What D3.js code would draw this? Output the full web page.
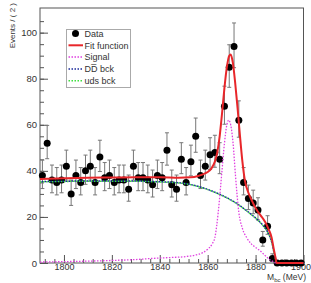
<!DOCTYPE html>
<html>
<head>
<meta charset="utf-8">
<script src="https://cdn.jsdelivr.net/npm/d3@7"></script>
<style>
body { margin: 0; background: #fff; }
text { font-family: "Liberation Sans", Arial, sans-serif; fill: #333; }
</style>
</head>
<body>
<svg id="plot"></svg>
<script>
// bin centres (2 MeV bins) and counts
var binCenters = [1791, 1793, 1795, 1797, 1799, 1801, 1803, 1805, 1807, 1809,
	1811, 1813, 1815, 1817, 1819, 1821, 1823, 1825, 1827, 1829,
	1831, 1833, 1835, 1837, 1839, 1841, 1843, 1845, 1847, 1849,
	1851, 1853, 1855, 1857, 1859, 1861, 1863, 1865, 1867, 1869,
	1871, 1873, 1875, 1877, 1879, 1881, 1883, 1885, 1887, 1889,
	1891, 1893, 1895, 1897, 1899];
var counts = [38, 52, 36, 35, 36, 42, 30, 38, 35, 40,
	42, 35, 46, 37, 38, 35, 36, 36, 32, 42,
	37, 37, 36, 34, 38, 37, 49, 34, 32, 45,
	35, 44, 55, 38, 42, 47, 48, 45, 68, 85,
	94, 62, 35, 28, 26, 23, 10, 16, 2, 0,
	0, 0, 0, 0, 0];

// curves, [mass, value]
var fitCurve = [[1790, 36.5], [1800, 36.8], [1810, 37], [1820, 37.1], [1830, 37.2], [1840, 37.2],
	[1848, 37], [1853, 37.2], [1856, 37.8], [1858, 38.5], [1860, 39.5], [1861.5, 41], [1863, 44],
	[1864, 48], [1865, 55], [1866, 65], [1867, 76], [1868, 85], [1869, 90], [1869.6, 90.5],
	[1870.5, 87], [1871.5, 78], [1872.5, 67], [1873.5, 55], [1874.5, 44], [1875.5, 36],
	[1877, 30.5], [1878.5, 27], [1880.5, 23], [1882, 20.8], [1884, 17.8], [1885.5, 14.5],
	[1886.7, 11], [1887.6, 6], [1888.3, 2.5], [1888.8, 0], [1900, 0]];
var signalCurve = [[1790, 0.4], [1800, 0.6], [1810, 0.8], [1820, 1.1], [1830, 1.5], [1837, 2],
	[1845, 2.4], [1851, 2.8], [1855, 3.5], [1858, 4.5], [1860, 6], [1862, 8.5], [1863, 11],
	[1864.4, 22], [1865.8, 38], [1867, 52], [1868, 60], [1868.8, 62], [1869.6, 60], [1870.6, 52],
	[1871.6, 38], [1873, 22], [1874.5, 15], [1876.3, 11], [1878, 8.5], [1880, 6.8], [1882, 5.2],
	[1884, 3.2], [1885.5, 1.8], [1887, 0.8], [1888.8, 0], [1900, 0]];
var ddBckCurve = [[1790, 35.3], [1800, 35.5], [1810, 35.6], [1820, 35.6], [1830, 35.6], [1836, 35.4],
	[1842, 35.2], [1850, 34.6], [1857, 33], [1864, 30.3], [1871, 26.6], [1877.6, 21.6], [1881, 18.6],
	[1883.2, 16.2], [1885, 13.5], [1886, 11.4], [1887, 8], [1887.6, 5], [1888.2, 2.5], [1888.8, 0], [1900, 0]];
var udsBckCurve = [[1790, 35.2], [1800, 35.4], [1810, 35.5], [1820, 35.5], [1830, 35.5], [1836, 35.3],
	[1842, 35.1], [1850, 34.5], [1857, 32.9], [1864, 30.2], [1871, 26.5], [1877.6, 21.5], [1881, 18.5],
	[1883.2, 16.1], [1885, 13.4], [1886, 11.3], [1887, 7.9], [1887.6, 4.9], [1888.2, 2.4], [1888.8, 0], [1900, 0]];

var xTicks = [1800, 1820, 1840, 1860, 1880, 1900];
var yTicks = [0, 20, 40, 60, 80, 100];
var legendNames = ["Data", "Fit function", "Signal", "DD\u0305 bck", "uds bck"];

var w = 311;
var h = 283;
var margin = {
	left: 40,
	right: 7.5,
	top: 8,
	bottom: 20
}

var svg = d3.select("#plot")
	.attr("width", w)
	.attr("height", h);

var xScale = d3.scaleLinear()
	.domain([1790, 1900])
	.range([margin.left, w - margin.right]);
var yScale = d3.scaleLinear()
	.domain([0, 110.7])
	.range([h - margin.bottom, margin.top]);

// frame
svg.append("rect")
	.attr("x", margin.left)
	.attr("y", margin.top)
	.attr("width", w - margin.right - margin.left)
	.attr("height", h - margin.bottom - margin.top)
	.attr("fill", "none")
	.attr("stroke", "#555")
	.attr("stroke-width", 1);

// axes, ticks pointing inwards
var xAxis = d3.axisBottom(xScale).tickValues(xTicks).tickSize(-8).tickPadding(1).tickFormat(d3.format("d"));
var xMinor = d3.axisBottom(xScale).tickValues(d3.range(1792, 1900, 4)).tickSize(-4).tickFormat("");
var yAxis = d3.axisLeft(yScale).tickValues(yTicks).tickSize(-8).tickPadding(3);
var yMinor = d3.axisLeft(yScale).tickValues(d3.range(5, 110, 5)).tickSize(-4).tickFormat("");

svg.append("g")
	.attr("transform", "translate(0," + (h - margin.bottom) + ")")
	.call(xMinor);
svg.append("g")
	.classed("xAxis", true)
	.attr("transform", "translate(0," + (h - margin.bottom) + ")")
	.call(xAxis);
svg.append("g")
	.attr("transform", "translate(" + margin.left + ",0)")
	.call(yMinor);
svg.append("g")
	.classed("yAxis", true)
	.attr("transform", "translate(" + margin.left + ",0)")
	.call(yAxis);

svg.selectAll(".domain").remove();
svg.selectAll(".tick line").attr("stroke", "#555");
svg.selectAll(".tick text")
	.attr("fill", "#333")
	.style("font-family", "Liberation Sans, Arial, sans-serif");
svg.selectAll(".xAxis .tick text").style("font-size", "9px");
svg.selectAll(".yAxis .tick text").style("font-size", "9.5px");
// keep the last x label inside the picture
svg.selectAll(".xAxis .tick text")
	.filter(function (d) { return d === 1900; })
	.attr("text-anchor", "end")
	.attr("dx", 7);

// axis titles
svg.append("text")
	.attr("transform", "translate(15," + 3 + ") rotate(-90)")
	.attr("text-anchor", "end")
	.style("font-size", "8px")
	.text("Events / ( 2 )");
var xt = svg.append("text")
	.attr("x", 306)
	.attr("y", 280)
	.attr("text-anchor", "end")
	.style("font-size", "8.5px");
xt.append("tspan").text("M");
xt.append("tspan").attr("dy", 2).style("font-size", "6px").text("bc");
xt.append("tspan").attr("dy", -2).text(" (MeV)");

// data with error bars
var data = binCenters.map(function (m, i) {
	return {m: m, n: counts[i]};
});
var withErr = data.filter(function (d) {
	return d.n > 0;
});
function errHi(d) {
	return d.n + Math.sqrt(d.n + 0.25) + 0.5;
}
function errLo(d) {
	return d.n - Math.sqrt(d.n + 0.25) + 0.5;
}
var bars = svg.append("g")
	.attr("stroke", "#777")
	.attr("stroke-width", 1);
bars.selectAll("line.v")
	.data(withErr)
	.enter()
	.append("line")
	.attr("x1", function (d) { return xScale(d.m); })
	.attr("x2", function (d) { return xScale(d.m); })
	.attr("y1", function (d) { return yScale(errHi(d)); })
	.attr("y2", function (d) { return yScale(errLo(d)); });
bars.selectAll("line.t")
	.data(withErr)
	.enter()
	.append("line")
	.attr("x1", function (d) { return xScale(d.m) - 2; })
	.attr("x2", function (d) { return xScale(d.m) + 2; })
	.attr("y1", function (d) { return yScale(errHi(d)); })
	.attr("y2", function (d) { return yScale(errHi(d)); });
bars.selectAll("line.b")
	.data(withErr)
	.enter()
	.append("line")
	.attr("x1", function (d) { return xScale(d.m) - 2; })
	.attr("x2", function (d) { return xScale(d.m) + 2; })
	.attr("y1", function (d) { return yScale(errLo(d)); })
	.attr("y2", function (d) { return yScale(errLo(d)); });

svg.selectAll("circle.pt")
	.data(data)
	.enter()
	.append("circle")
	.attr("cx", function (d) { return xScale(d.m); })
	.attr("cy", function (d) { return yScale(d.n); })
	.attr("r", 3.5)
	.attr("fill", "black");

// curves
var line = d3.line()
	.x(function (d) { return xScale(d[0]); })
	.y(function (d) { return yScale(d[1]); })
	.curve(d3.curveMonotoneX);

svg.append("path")
	.datum(udsBckCurve)
	.attr("d", line)
	.attr("fill", "none")
	.attr("stroke", "#3ee03e")
	.attr("stroke-width", 1.5)
	.attr("stroke-dasharray", "1.5,1.5");
svg.append("path")
	.datum(ddBckCurve)
	.attr("d", line)
	.attr("fill", "none")
	.attr("stroke", "#1a2a9a")
	.attr("stroke-width", 1.5)
	.attr("stroke-dasharray", "1.5,1.5")
	.attr("stroke-dashoffset", 1.5);
svg.append("path")
	.datum(signalCurve)
	.attr("d", line)
	.attr("fill", "none")
	.attr("stroke", "#e040e0")
	.attr("stroke-width", 1.3)
	.attr("stroke-dasharray", "1.5,1.5");
svg.append("path")
	.datum(fitCurve)
	.attr("d", line)
	.attr("fill", "none")
	.attr("stroke", "#e8262a")
	.attr("stroke-width", 2);

// legend
var leg = svg.append("g");
leg.append("rect")
	.attr("x", 66.5)
	.attr("y", 29.5)
	.attr("width", 64)
	.attr("height", 58)
	.attr("fill", "white")
	.attr("stroke", "#aaa")
	.attr("stroke-width", 1);
var legendStyles = [
	{color: "black", dash: null},
	{color: "#e8262a", dash: null},
	{color: "#e040e0", dash: "1.5,1.5"},
	{color: "#1a2a9a", dash: "1.5,1.5"},
	{color: "#3ee03e", dash: "1.5,1.5"}
];
legendNames.forEach(function (name, i) {
	var y = 33.5 + i * 11.8;
	if (i === 0) {
		leg.append("circle")
			.attr("cx", 75.5)
			.attr("cy", y)
			.attr("r", 3.5)
			.attr("fill", "black");
	} else {
		leg.append("line")
			.attr("x1", 68.5)
			.attr("x2", 83)
			.attr("y1", y)
			.attr("y2", y)
			.attr("stroke", legendStyles[i].color)
			.attr("stroke-width", i === 1 ? 2 : 1.5)
			.attr("stroke-dasharray", legendStyles[i].dash);
	}
	leg.append("text")
		.attr("x", 84.5)
		.attr("y", y + 3.2)
		.style("font-size", "9px")
		.text(name);
});
</script>
</body>
</html>
